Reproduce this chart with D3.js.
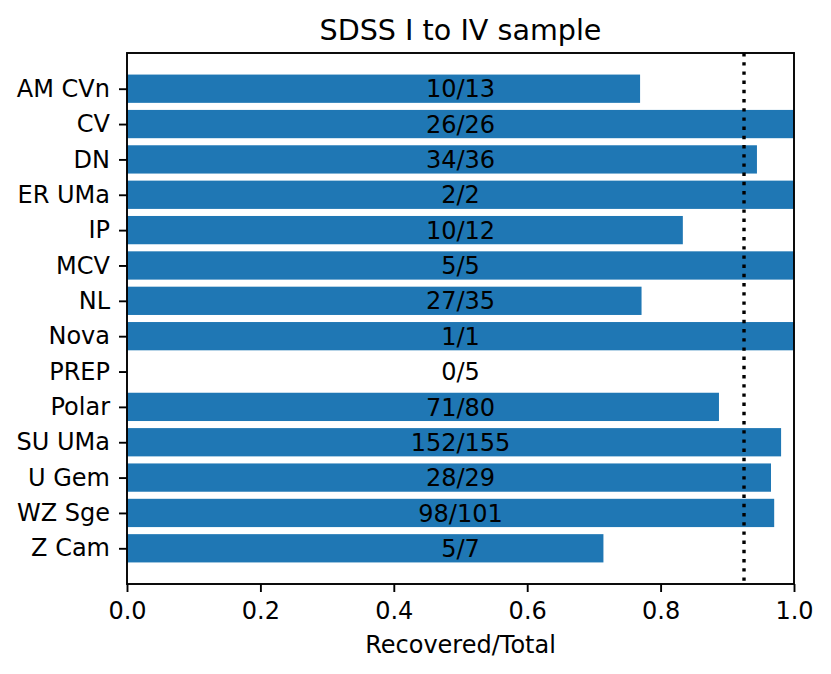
<!DOCTYPE html>
<html><head><meta charset="utf-8">
<script src="https://cdn.jsdelivr.net/npm/d3@7"></script>
<style>body{margin:0;background:#fff}svg{display:block}text{font-family:"DejaVu Sans",sans-serif}</style>
</head><body>
<script>
const categories = ["AM CVn","CV","DN","ER UMa","IP","MCV","NL","Nova","PREP","Polar","SU UMa","U Gem","WZ Sge","Z Cam"];
const recovered = [10,26,34,2,10,5,27,1,0,71,152,28,98,5];
const totals = [13,26,36,2,12,5,35,1,5,80,155,29,101,7];
const xTicks = [0,0.2,0.4,0.6,0.8,1.0];
const title = "SDSS I to IV sample";
const xLabel = "Recovered/Total";

const W = 831, H = 674;
const L = 127, R = 794, T = 53, B = 584;
const fs = 24;
const svg = d3.select("body").append("svg").attr("width", W).attr("height", H);
const x = d3.scaleLinear().domain([0, 1]).range([L, R]);
const y = d3.scaleLinear().domain([-1.01, 14.01]).range([T, B]);
const data = categories.map((c, i) => ({c, i, r: recovered[i], t: totals[i], f: recovered[i] / totals[i]}));
const overall = d3.sum(recovered) / d3.sum(totals);

svg.append("g").selectAll("rect").data(data).join("rect")
  .attr("x", x(0)).attr("y", d => y(d.i - 0.4))
  .attr("width", d => x(d.f) - x(0)).attr("height", d => y(d.i + 0.4) - y(d.i - 0.4))
  .attr("fill", "#1f77b4");

svg.append("g").selectAll("text").data(data).join("text")
  .attr("x", (L + R) / 2).attr("y", d => y(d.i)).attr("dy", "0.36em")
  .attr("text-anchor", "middle").attr("font-size", fs).attr("fill", "#000")
  .text(d => d.r + "/" + d.t);

svg.append("line").attr("x1", x(overall)).attr("x2", x(overall)).attr("y1", T).attr("y2", B)
  .attr("stroke", "#000").attr("stroke-width", 3.4).attr("stroke-dasharray", "3.4,5.8");

svg.append("rect").attr("x", L).attr("y", T).attr("width", R - L).attr("height", B - T)
  .attr("fill", "none").attr("stroke", "#000").attr("stroke-width", 1.9);

const xa = svg.append("g").attr("transform", `translate(0,${B})`)
  .call(d3.axisBottom(x).tickValues(xTicks).tickFormat(d3.format(".1f")).tickSizeOuter(0).tickSize(8).tickPadding(10));
const ya = svg.append("g").attr("transform", `translate(${L},0)`)
  .call(d3.axisLeft(y).tickValues(d3.range(categories.length)).tickFormat(i => categories[i]).tickSizeOuter(0).tickSize(8).tickPadding(9));
[xa, ya].forEach(a => {
  a.select(".domain").remove();
  a.selectAll(".tick line").attr("stroke", "#000").attr("stroke-width", 1.9);
  a.selectAll(".tick text").attr("font-size", fs).attr("fill", "#000").attr("font-family", "DejaVu Sans");
});

svg.append("text").attr("x", (L + R) / 2).attr("y", 40).attr("text-anchor", "middle")
  .attr("font-size", 28.6).attr("fill", "#000").text(title);
svg.append("text").attr("x", (L + R) / 2).attr("y", 653).attr("text-anchor", "middle")
  .attr("font-size", fs).attr("fill", "#000").text(xLabel);
</script>
</body></html>
